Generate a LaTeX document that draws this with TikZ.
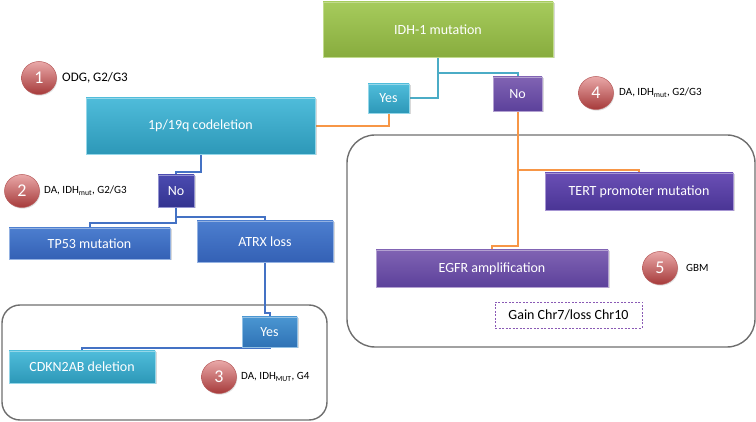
\documentclass[tikz,border=0pt]{standalone}
\usepackage{fontspec}
\setmainfont{Carlito}
\usetikzlibrary{backgrounds,shadows,shapes.geometric}
\definecolor{grnT}{HTML}{A6CB5C}
\definecolor{grnB}{HTML}{88AC3E}
\definecolor{cyT}{HTML}{4FBCDA}
\definecolor{cyB}{HTML}{2D98B8}
\definecolor{puT}{HTML}{8063B3}
\definecolor{puB}{HTML}{5C419B}
\definecolor{tpT}{HTML}{6A4FB5}
\definecolor{tpB}{HTML}{4A3595}
\definecolor{dbT}{HTML}{4B4BB0}
\definecolor{dbB}{HTML}{333390}
\definecolor{blT}{HTML}{4C7ECF}
\definecolor{blB}{HTML}{3461B5}
\definecolor{ybT}{HTML}{4A96D2}
\definecolor{ybB}{HTML}{2F72B5}
\definecolor{lnCy}{HTML}{4BACC6}
\definecolor{lnBl}{HTML}{4472C4}
\definecolor{lnOr}{HTML}{F79646}
\definecolor{frameGray}{HTML}{6E6E6E}
\definecolor{dashPu}{HTML}{8A5AB5}
\definecolor{ballT}{HTML}{E9A8A8}
\definecolor{ballB}{HTML}{A63A3A}
\definecolor{ballRim}{HTML}{B75A5A}
\begin{document}
\begin{tikzpicture}[x=1pt,y=-1pt,
  box/.style={rectangle, inner sep=0pt, text=white,
    font=\fontsize{14}{16}\selectfont, line width=0.6pt,
    drop shadow={shadow xshift=1.5pt, shadow yshift=-1.5pt, opacity=0.3}},
  greenbox/.style={box, top color=grnT, bottom color=grnB, draw=grnT!70!white},
  cyanbox/.style={box, top color=cyT, bottom color=cyB, draw=cyT!60!white},
  purplebox/.style={box, top color=puT, bottom color=puB, draw=puT!60!white},
  violetbox/.style={box, top color=tpT, bottom color=tpB, draw=tpT!60!white},
  darkbox/.style={box, top color=dbT, bottom color=dbB, draw=dbT!60!white},
  bluebox/.style={box, top color=blT, bottom color=blB, draw=blT!60!white},
  yesbox/.style={box, top color=ybT, bottom color=ybB, draw=ybT!60!white},
  ball/.style={ellipse, minimum width=35pt, minimum height=33pt, inner sep=0pt,
    top color=ballT, bottom color=ballB, draw=ballRim, line width=0.5pt,
    drop shadow={shadow xshift=0.8pt, shadow yshift=-1.2pt, opacity=0.25},
    text=white, font=\fontsize{18}{20}\selectfont},
  note/.style={anchor=west, inner sep=0pt, font=\fontsize{11}{13}\selectfont},
  frame/.style={draw=frameGray, line width=1.4pt, rounded corners=#1},
  cyline/.style={draw=lnCy, line width=2pt},
  blline/.style={draw=lnBl, line width=2pt},
  orline/.style={draw=lnOr, line width=2pt},
]
\useasboundingbox (0,0) rectangle (756,422);

% boxes
\node[greenbox, minimum width=230pt, minimum height=55pt] (IDH) at (438,29.5) {IDH-1 mutation};
\node[cyanbox, minimum width=229pt, minimum height=56pt] (P19) at (200.5,126) {1p/19q codeletion};
\node[cyanbox, minimum width=41pt, minimum height=29pt] (YesT) at (388.5,98.5) {Yes};
\node[purplebox, minimum width=49pt, minimum height=34pt] (NoT) at (517.5,94) {No};
\node[violetbox, minimum width=188pt, minimum height=37pt] (TERT) at (639,191.5) {TERT promoter mutation};
\node[purplebox, minimum width=232pt, minimum height=37pt] (EGFR) at (492,268.5) {EGFR amplification};
\node[draw=dashPu, dash pattern=on 2pt off 1.5pt, line width=0.7pt, minimum width=147pt, minimum height=26pt, inner sep=0pt, font=\fontsize{14}{16}\selectfont] (GAIN) at (568.5,315) {Gain Chr7/loss Chr10};
\node[darkbox, minimum width=36pt, minimum height=32pt] (NoL) at (176,191) {No};
\node[bluebox, minimum width=161pt, minimum height=31pt] (TP53) at (89.5,243.5) {TP53 mutation};
\node[bluebox, minimum width=136pt, minimum height=41pt] (ATRX) at (265,241.5) {ATRX loss};
\node[yesbox, minimum width=55pt, minimum height=30pt] (YesB) at (269.5,332) {Yes};
\node[cyanbox, minimum width=146pt, minimum height=32pt] (CDKN) at (82,367) {CDKN2AB deletion};

% numbered balls and notes
\node[ball] (B1) at (39,78) {1};
\node[note, font=\fontsize{13}{15}\selectfont] (L1) at (62,78) {ODG, G2/G3};
\node[ball] (B2) at (22,191) {2};
\node[note] (L2) at (44,191) {DA, IDH\textsubscript{mut}, G2/G3};
\node[ball] (B3) at (219,377) {3};
\node[note] (L3) at (241,377) {DA, IDH\textsubscript{MUT}, G4};
\node[ball] (B4) at (596,93) {4};
\node[note] (L4) at (619,93) {DA, IDH\textsubscript{mut}, G2/G3};
\node[ball] (B5) at (660,268) {5};
\node[note] (L5) at (686,268) {GBM};

\begin{scope}[on background layer]
  \draw[frame=28pt] (347,135) rectangle (755,347);
  \draw[frame=18pt] (2,305) rectangle (327,420);
  % connectors
  \draw[cyline] (IDH.south) |- (YesT.east);
  \draw[cyline] (IDH.south) -- ++(0,16) -| (NoT.north);
  \draw[orline] (YesT.south) |- (P19.east);
  \draw[orline] (NoT.south) |- ([yshift=3pt]TERT.north) -- (TERT.north);
  \draw[orline] (NoT.south) -- ++(0,135) -| (EGFR.north);
  \draw[blline] (P19.south) -- ++(0,18) -| (NoL.north);
  \draw[blline] (NoL.south) -- ++(0,16) -| (TP53.north);
  \draw[blline] (NoL.south) -- ++(0,10) -| (ATRX.north);
  \draw[blline] (ATRX.south) -- ++(0,51) -| (YesB.north);
  \draw[blline] (YesB.south) -- ++(0,1) -| (CDKN.north);
\end{scope}
\end{tikzpicture}
\end{document}
